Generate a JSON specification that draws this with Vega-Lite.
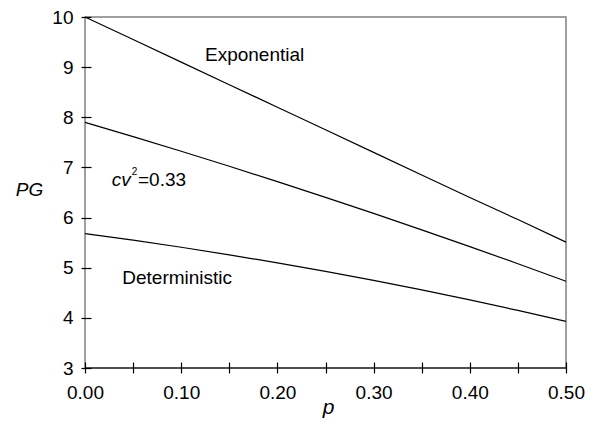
{
  "$schema": "https://vega.github.io/schema/vega-lite/v6.json",
  "width": 481,
  "height": 351,
  "autosize": "none",
  "padding": {"left": 85, "top": 17, "right": 26, "bottom": 57},
  "background": "white",
  "config": {
    "view": {"stroke": "#808080", "strokeWidth": 1.5},
    "font": "Liberation Sans",
    "text": {"font": "Liberation Sans", "fontSize": 19, "color": "black"}
  },
  "datasets": {
    "curves": [
      {"p": 0.00, "PG": 10.00, "series": "Exponential"},
      {"p": 0.05, "PG": 9.55, "series": "Exponential"},
      {"p": 0.10, "PG": 9.10, "series": "Exponential"},
      {"p": 0.15, "PG": 8.65, "series": "Exponential"},
      {"p": 0.20, "PG": 8.20, "series": "Exponential"},
      {"p": 0.25, "PG": 7.75, "series": "Exponential"},
      {"p": 0.30, "PG": 7.30, "series": "Exponential"},
      {"p": 0.35, "PG": 6.85, "series": "Exponential"},
      {"p": 0.40, "PG": 6.40, "series": "Exponential"},
      {"p": 0.45, "PG": 5.96, "series": "Exponential"},
      {"p": 0.50, "PG": 5.51, "series": "Exponential"},
      {"p": 0.00, "PG": 7.90, "series": "cv2=0.33"},
      {"p": 0.05, "PG": 7.615, "series": "cv2=0.33"},
      {"p": 0.10, "PG": 7.323, "series": "cv2=0.33"},
      {"p": 0.15, "PG": 7.023, "series": "cv2=0.33"},
      {"p": 0.20, "PG": 6.717, "series": "cv2=0.33"},
      {"p": 0.25, "PG": 6.404, "series": "cv2=0.33"},
      {"p": 0.30, "PG": 6.083, "series": "cv2=0.33"},
      {"p": 0.35, "PG": 5.755, "series": "cv2=0.33"},
      {"p": 0.40, "PG": 5.421, "series": "cv2=0.33"},
      {"p": 0.45, "PG": 5.079, "series": "cv2=0.33"},
      {"p": 0.50, "PG": 4.73, "series": "cv2=0.33"},
      {"p": 0.00, "PG": 5.68, "series": "Deterministic"},
      {"p": 0.05, "PG": 5.549, "series": "Deterministic"},
      {"p": 0.10, "PG": 5.408, "series": "Deterministic"},
      {"p": 0.15, "PG": 5.257, "series": "Deterministic"},
      {"p": 0.20, "PG": 5.097, "series": "Deterministic"},
      {"p": 0.25, "PG": 4.926, "series": "Deterministic"},
      {"p": 0.30, "PG": 4.747, "series": "Deterministic"},
      {"p": 0.35, "PG": 4.557, "series": "Deterministic"},
      {"p": 0.40, "PG": 4.358, "series": "Deterministic"},
      {"p": 0.45, "PG": 4.148, "series": "Deterministic"},
      {"p": 0.50, "PG": 3.93, "series": "Deterministic"}
    ],
    "one": [{"k": 1}]
  },
  "layer": [
    {
      "data": {"name": "curves"},
      "mark": {"type": "line", "color": "black", "strokeWidth": 1.2},
      "encoding": {
        "x": {
          "field": "p", "type": "quantitative",
          "scale": {"domain": [0, 0.5], "nice": false, "zero": false},
          "axis": {
            "values": [0, 0.05, 0.1, 0.15, 0.2, 0.25, 0.3, 0.35, 0.4, 0.45, 0.5],
            "labelExpr": "round(datum.value*100) % 10 == 0 ? format(datum.value, '.2f') : ''",
            "domain": false,
            "offset": -6,
            "tickSize": 11,
            "tickColor": "black",
            "tickWidth": 1.2,
            "grid": false,
            "labelFont": "Liberation Sans",
            "labelFontSize": 19,
            "labelColor": "black",
            "labelPadding": 10,
            "labelFlush": false,
            "title": "p",
            "titleFont": "Liberation Sans",
            "titleFontStyle": "italic",
            "titleFontWeight": "normal",
            "titleFontSize": 21,
            "titleColor": "black",
            "titleX": 243,
            "titleY": 51,
            "titleAlign": "center",
            "titleBaseline": "alphabetic"
          }
        },
        "y": {
          "field": "PG", "type": "quantitative",
          "scale": {"domain": [3, 10], "nice": false, "zero": false},
          "axis": {
            "values": [3, 4, 5, 6, 7, 8, 9, 10],
            "domain": false,
            "offset": -6,
            "tickSize": 10,
            "tickColor": "black",
            "tickWidth": 1.2,
            "grid": false,
            "labelFont": "Liberation Sans",
            "labelFontSize": 19,
            "labelColor": "black",
            "labelPadding": 8,
            "labelFlush": false,
            "title": "PG",
            "titleFont": "Liberation Sans",
            "titleFontStyle": "italic",
            "titleFontWeight": "normal",
            "titleFontSize": 19,
            "titleColor": "black",
            "titleAngle": 0,
            "titleX": -62,
            "titleY": 172,
            "titleAlign": "center",
            "titleBaseline": "middle"
          }
        },
        "detail": {"field": "series", "type": "nominal"}
      }
    },
    {
      "data": {"name": "one"},
      "mark": {"type": "rule", "color": "black", "strokeWidth": 1.2},
      "encoding": {"y": {"datum": 3}}
    },
    {
      "data": {"name": "one"},
      "mark": {"type": "text", "align": "center", "baseline": "middle", "fontSize": 19},
      "encoding": {
        "x": {"datum": 0.1763},
        "y": {"datum": 9.25},
        "text": {"value": "Exponential"}
      }
    },
    {
      "data": {"name": "one"},
      "mark": {"type": "text", "align": "center", "baseline": "middle", "fontSize": 19},
      "encoding": {
        "x": {"datum": 0.0958},
        "y": {"datum": 4.8},
        "text": {"value": "Deterministic"}
      }
    },
    {
      "data": {"name": "one"},
      "mark": {"type": "text", "align": "right", "baseline": "alphabetic", "fontSize": 19, "fontStyle": "italic"},
      "encoding": {
        "x": {"datum": 0.0476},
        "y": {"datum": 6.635},
        "text": {"value": "cv"}
      }
    },
    {
      "data": {"name": "one"},
      "mark": {"type": "text", "align": "left", "baseline": "alphabetic", "fontSize": 10},
      "encoding": {
        "x": {"datum": 0.0487},
        "y": {"datum": 6.84},
        "text": {"value": "2"}
      }
    },
    {
      "data": {"name": "one"},
      "mark": {"type": "text", "align": "left", "baseline": "alphabetic", "fontSize": 19},
      "encoding": {
        "x": {"datum": 0.0551},
        "y": {"datum": 6.635},
        "text": {"value": "=0.33"}
      }
    }
  ]
}
